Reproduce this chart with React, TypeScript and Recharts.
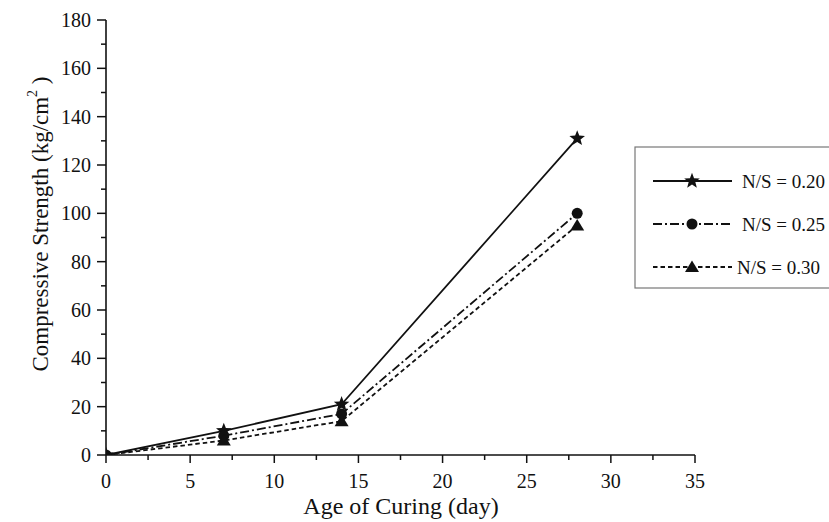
import React from "react";
import { LineChart, Line, XAxis, YAxis, Customized } from "recharts";

// curing age (days)
const days = [0, 7, 14, 28];
// compressive strength (kg/cm2) for each N/S ratio
const ns020 = [0, 10, 21, 131];
const ns025 = [0, 8, 17, 100];
const ns030 = [0, 6, 14, 95];
const seriesNames = ["N/S = 0.20", "N/S = 0.25", "N/S = 0.30"];

const xTicks = [0, 2.5, 5, 7.5, 10, 12.5, 15, 17.5, 20, 22.5, 25, 27.5, 30, 32.5, 35];
const yTicks = [0, 10, 20, 30, 40, 50, 60, 70, 80, 90, 100, 110, 120, 130, 140, 150, 160, 170, 180];

const data = days.map((d, i) => ({ day: d, a: ns020[i], b: ns025[i], c: ns030[i] }));

const FONT = '"Liberation Serif", "DejaVu Serif", "Times New Roman", serif';
const INK = "#111";
const txt = (size: number) => ({ fontFamily: FONT, fontSize: size });

const starPath = (cx: number, cy: number, R: number, r: number) => {
  let d = "";
  for (let i = 0; i < 10; i++) {
    const rad = i % 2 === 0 ? R : r;
    const ang = -Math.PI / 2 + (i * Math.PI) / 5;
    d += (i === 0 ? "M" : "L") + (cx + rad * Math.cos(ang)).toFixed(2) + "," + (cy + rad * Math.sin(ang)).toFixed(2);
  }
  return d + "Z";
};

const Star = ({ cx, cy }: { cx: number; cy: number }) => (
  <path d={starPath(cx, cy, 8.2, 3.5)} fill={INK} />
);
const Dot = ({ cx, cy }: { cx: number; cy: number }) => <circle cx={cx} cy={cy} r={5.5} fill={INK} />;
const Tri = ({ cx, cy }: { cx: number; cy: number }) => (
  <path d={`M${cx},${cy - 6.5}L${cx + 7},${cy + 5}L${cx - 7},${cy + 5}Z`} fill={INK} />
);

const markers = [Star, Dot, Tri];
const dashes = [undefined, "9 3 2 3", "4.5 3"];

const XTick = (props: any) => {
  const { x, y, payload } = props;
  const major = payload.value % 5 === 0;
  return (
    <g>
      <line x1={x} x2={x} y1={y} y2={y + (major ? 8 : 5)} stroke={INK} strokeWidth={1.5} />
      {major && (
        <text x={x} y={y + 33} textAnchor="middle" style={txt(20)} fill={INK}>
          {payload.value}
        </text>
      )}
    </g>
  );
};

const YTick = (props: any) => {
  const { x, y, payload } = props;
  const major = payload.value % 20 === 0;
  return (
    <g>
      <line x1={x} x2={x - (major ? 9 : 5)} y1={y} y2={y} stroke={INK} strokeWidth={1.5} />
      {major && (
        <text x={x - 15} y={y + 7} textAnchor="end" style={txt(20)} fill={INK}>
          {payload.value}
        </text>
      )}
    </g>
  );
};

const Extras = () => {
  const rows = [181, 224, 267];
  return (
    <g>
      <text x={401} y={514} textAnchor="middle" style={txt(24)} fill={INK}>
        Age of Curing (day)
      </text>
      <text transform="translate(48,224) rotate(-90)" textAnchor="middle" style={txt(23)} fill={INK}>
        Compressive Strength (kg/cm
        <tspan style={{ fontSize: 14 }} dy={-11}>2</tspan>
        <tspan dy={11}> )</tspan>
      </text>
      <rect x={635} y={147} width={210} height={141} fill="#fff" stroke="#777" strokeWidth={1.2} />
      {seriesNames.map((name, i) => {
        const M = markers[i];
        return (
          <g key={name}>
            <line x1={653} x2={732} y1={rows[i]} y2={rows[i]} stroke={INK} strokeWidth={1.8} strokeDasharray={dashes[i]} />
            <M cx={692} cy={rows[i]} />
            <text x={i === 2 ? 737 : 742} y={rows[i] + 6.5} style={txt(19)} fill={INK}>
              {name}
            </text>
          </g>
        );
      })}
    </g>
  );
};

const renderDot = (i: number) => (props: any) => {
  const M = markers[i];
  return (
    <g key={`m${i}-${props.index}`}>
      <M cx={props.cx} cy={props.cy} />
    </g>
  );
};

export default function App() {
  return (
    <div style={{ position: "absolute", left: 0, top: 0, width: 829, height: 522, background: "#fff" }}>
      <LineChart width={829} height={522} data={data} margin={{ top: 20, right: 134, bottom: 0, left: 0 }}>
        <XAxis
          dataKey="day"
          type="number"
          domain={[0, 35]}
          ticks={xTicks}
          interval={0}
          allowDataOverflow
          height={67}
          tickSize={0}
          tickMargin={0}
          tickLine={false}
          tick={XTick}
          axisLine={{ stroke: INK, strokeWidth: 1.6 }}
        />
        <YAxis
          type="number"
          domain={[0, 180]}
          ticks={yTicks}
          interval={0}
          allowDataOverflow
          width={106}
          tickSize={0}
          tickMargin={0}
          tickLine={false}
          tick={YTick}
          axisLine={{ stroke: INK, strokeWidth: 1.6 }}
        />
        {["a", "b", "c"].map((k, i) => (
          <Line
            key={k}
            dataKey={k}
            name={seriesNames[i]}
            type="linear"
            stroke={INK}
            strokeWidth={1.8}
            strokeDasharray={dashes[i]}
            dot={renderDot(i)}
            activeDot={false}
            isAnimationActive={false}
          />
        ))}
        <Customized component={Extras} />
      </LineChart>
    </div>
  );
}
